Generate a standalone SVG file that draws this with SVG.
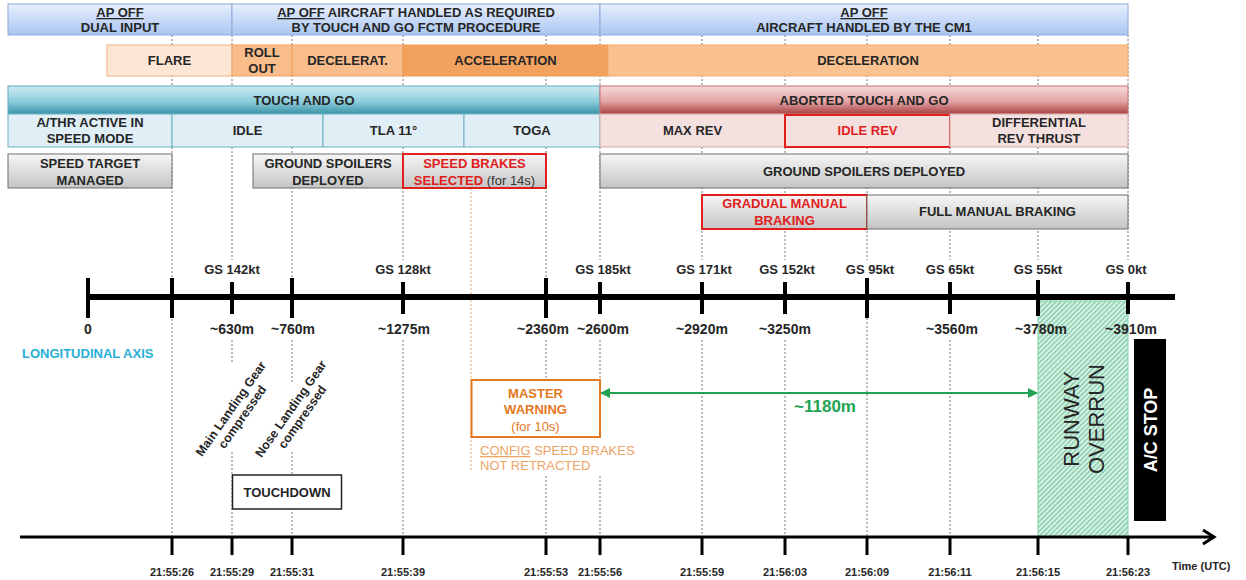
<svg xmlns="http://www.w3.org/2000/svg" width="1246" height="580" viewBox="0 0 1246 580">
<defs>
  <linearGradient id="gBlue" x1="0" y1="0" x2="0" y2="1"><stop offset="0" stop-color="#e8f0fd"/><stop offset="1" stop-color="#a9c5f1"/></linearGradient>
  <linearGradient id="gTeal" x1="0" y1="0" x2="0" y2="1"><stop offset="0" stop-color="#cdebf2"/><stop offset="0.55" stop-color="#8ecddb"/><stop offset="1" stop-color="#3a93a8"/></linearGradient>
  <linearGradient id="gRed" x1="0" y1="0" x2="0" y2="1"><stop offset="0" stop-color="#f8dada"/><stop offset="0.55" stop-color="#e2a4a4"/><stop offset="1" stop-color="#a94242"/></linearGradient>
  <linearGradient id="gGray" x1="0" y1="0" x2="0" y2="1"><stop offset="0" stop-color="#f6f6f6"/><stop offset="1" stop-color="#c4c4c4"/></linearGradient>
  <pattern id="hatch" patternUnits="userSpaceOnUse" width="3.5" height="3.5" patternTransform="rotate(45)"><rect width="3.5" height="3.5" fill="#d8f2e6"/><line x1="1" y1="0" x2="1" y2="3.5" stroke="#63bd90" stroke-width="1"/></pattern>
  <marker id="ga" viewBox="0 0 10 10" refX="9" refY="5" markerWidth="10" markerHeight="10" markerUnits="userSpaceOnUse" orient="auto-start-reverse"><path d="M0,0 L10,5 L0,10 z" fill="#1fa352"/></marker>
</defs>
<style>
  text{font-family:"Liberation Sans",Arial,sans-serif;}
  .t{font-size:13px;font-weight:bold;fill:#262626;text-anchor:middle}
  .red{fill:#e0201c}
  .u{text-decoration:underline}
  .n{font-weight:normal}
  .blue{fill:url(#gBlue);stroke:#8eaadb;stroke-width:1}
  .pk1{fill:#fde6d3;stroke:#f4b183;stroke-width:1}
  .pk2{fill:#f9bd8c;stroke:#f0a060;stroke-width:1}
  .pk3{fill:#f2a25e;stroke:#ee9a52;stroke-width:1}
  .pk4{fill:#f9c290;stroke:#f2ab6c;stroke-width:1}
  .teal{fill:url(#gTeal);stroke:#5aaabd;stroke-width:1}
  .lb{fill:#e0eff5;stroke:#6ab0c4;stroke-width:1}
  .rd{fill:url(#gRed);stroke:#c97070;stroke-width:1}
  .lp{fill:#f5e0e0;stroke:#d8a8a8;stroke-width:1}
  .gr{fill:url(#gGray);stroke:#6e6e6e;stroke-width:1}
  .redb{stroke:#e0201c;stroke-width:2}
  .dash{stroke:#555;stroke-width:0.8;stroke-dasharray:2 2;fill:none}
  .gs{font-size:13px;font-weight:bold;fill:#262626;text-anchor:middle}
  .dm{font-size:14px;font-weight:bold;fill:#262626;text-anchor:middle}
  .tm{font-size:11px;font-weight:bold;fill:#262626;text-anchor:middle}
  .tick{stroke:#000;stroke-width:4}
  .tt{stroke:#000;stroke-width:3}
  .rot{font-size:12.5px;font-weight:bold;fill:#262626;text-anchor:middle}
</style>

<g id="connectors">
  <path class="dash" d="M172,35V537 M232,35V260 M232,340V362 M232,452V537 M292,35V278 M292,340V382 M292,452V537 M403,35V260 M403,340V537 M546,35V278 M546,340V380 M546,476V537 M600,35V260 M600,340V380 M600,476V537 M702,35V260 M702,340V537 M785,35V260 M785,340V537 M867,35V260 M867,318V537 M950,35V260 M950,340V537 M1038,35V260 M1128,35V260"/>
  <path d="M471,188V472" stroke="#e8a060" stroke-width="0.9" stroke-dasharray="2 2" fill="none"/>
</g>

<g id="runway-overrun">
  <rect x="1038" y="301" width="90" height="236" fill="url(#hatch)" stroke="#7fd0a8" stroke-width="1"/>
  <text transform="translate(1083,419) rotate(-90)" font-size="22" fill="#262626" text-anchor="middle"><tspan x="0" y="-4">RUNWAY</tspan><tspan x="0" y="21">OVERRUN</tspan></text>
</g>

<g id="axes">
  <line x1="86" y1="297" x2="1175" y2="297" stroke="#000" stroke-width="6"/>
  <path class="tick" d="M88,278V318 M172,278V318 M232,282V314 M292,278V318 M403,282V314 M546,278V318 M600,282V314 M702,282V314 M785,282V314 M867,278V318 M950,282V314 M1038,280V316 M1128,282V314"/>
  <line x1="20" y1="537" x2="1212" y2="537" stroke="#000" stroke-width="3"/>
  <polyline points="1203,530 1214,537 1203,544" fill="none" stroke="#000" stroke-width="3"/>
  <path class="tt" d="M172,537V555 M232,537V555 M292,537V555 M403,537V555 M546,537V555 M600,537V555 M702,537V555 M785,537V555 M867,537V555 M950,537V555 M1038,537V555 M1128,537V555"/>
  <line x1="601" y1="393" x2="1037" y2="393" stroke="#1fa352" stroke-width="2" marker-start="url(#ga)" marker-end="url(#ga)"/>
</g>

<g id="ap-dual">
  <rect class="blue" x="8" y="4" width="224" height="31"/>
  <text class="t" x="120" y="17"><tspan class="u">AP OFF</tspan></text>
  <text class="t" x="120" y="32">DUAL INPUT</text>
</g>
<g id="ap-fctm">
  <rect class="blue" x="232" y="4" width="368" height="31"/>
  <text class="t" x="416" y="17"><tspan class="u">AP OFF</tspan> AIRCRAFT HANDLED AS REQUIRED</text>
  <text class="t" x="416" y="32">BY TOUCH AND GO FCTM PROCEDURE</text>
</g>
<g id="ap-cm1">
  <rect class="blue" x="600" y="4" width="528" height="31"/>
  <text class="t" x="864" y="17"><tspan class="u">AP OFF</tspan></text>
  <text class="t" x="864" y="32">AIRCRAFT HANDLED BY THE CM1</text>
</g>

<g id="flare"><rect class="pk1" x="107" y="45" width="125" height="31"/><text class="t" x="169.5" y="65">FLARE</text></g>
<g id="rollout"><rect class="pk2" x="232" y="45" width="60" height="31"/><text class="t" x="262" y="57">ROLL</text><text class="t" x="262" y="73">OUT</text></g>
<g id="decelerat"><rect class="pk2" x="292" y="45" width="111" height="31"/><text class="t" x="347.5" y="65">DECELERAT.</text></g>
<g id="acceleration"><rect class="pk3" x="403" y="45" width="205" height="31"/><text class="t" x="505.5" y="65">ACCELERATION</text></g>
<g id="deceleration"><rect class="pk4" x="608" y="45" width="520" height="31"/><text class="t" x="868" y="65">DECELERATION</text></g>

<g id="touch-and-go"><rect class="teal" x="8" y="86" width="592" height="28"/><text class="t" x="304" y="105">TOUCH AND GO</text></g>
<g id="aborted"><rect class="rd" x="600" y="86" width="528" height="28"/><text class="t" x="864" y="105">ABORTED TOUCH AND GO</text></g>

<g id="athr"><rect class="lb" x="8" y="114" width="164" height="33"/><text class="t" x="90" y="127">A/THR ACTIVE IN</text><text class="t" x="90" y="143">SPEED MODE</text></g>
<g id="idle"><rect class="lb" x="172" y="114" width="151" height="33"/><text class="t" x="247.5" y="135">IDLE</text></g>
<g id="tla"><rect class="lb" x="323" y="114" width="141" height="33"/><text class="t" x="393.5" y="135">TLA 11°</text></g>
<g id="toga"><rect class="lb" x="464" y="114" width="136" height="33"/><text class="t" x="532" y="135">TOGA</text></g>
<g id="maxrev"><rect class="lp" x="600" y="114" width="185" height="33"/><text class="t" x="692.5" y="135">MAX REV</text></g>
<g id="idlerev"><rect class="lp redb" x="785" y="115" width="165" height="32"/><text class="t red" x="867.5" y="135">IDLE REV</text></g>
<g id="diffrev"><rect class="lp" x="950" y="114" width="178" height="33"/><text class="t" x="1039" y="127">DIFFERENTIAL</text><text class="t" x="1039" y="143">REV THRUST</text></g>

<g id="speed-target"><rect class="gr" x="8" y="154" width="164" height="34"/><text class="t" x="90" y="168">SPEED TARGET</text><text class="t" x="90" y="185">MANAGED</text></g>
<g id="spoilers-1"><rect class="gr" x="253" y="154" width="150" height="34"/><text class="t" x="328" y="168">GROUND SPOILERS</text><text class="t" x="328" y="185">DEPLOYED</text></g>
<g id="speed-brakes"><rect class="gr redb" x="403" y="154" width="143" height="34"/><text class="t red" x="474.5" y="168">SPEED BRAKES</text><text class="t" x="474.5" y="185"><tspan class="red">SELECTED</tspan><tspan class="n" fill="#333"> (for 14s)</tspan></text></g>
<g id="spoilers-2"><rect class="gr" x="600" y="154" width="528" height="34"/><text class="t" x="864" y="176">GROUND SPOILERS DEPLOYED</text></g>

<g id="gradual"><rect class="gr redb" x="702" y="195" width="165" height="34"/><text class="t red" x="784.5" y="208">GRADUAL  MANUAL</text><text class="t red" x="784.5" y="225">BRAKING</text></g>
<g id="full-braking"><rect class="gr" x="867" y="195" width="261" height="34"/><text class="t" x="997.5" y="216">FULL MANUAL  BRAKING</text></g>

<g id="gs-labels">
  <text class="gs" x="232" y="274">GS 142kt</text>
  <text class="gs" x="403" y="274">GS 128kt</text>
  <text class="gs" x="603" y="274">GS 185kt</text>
  <text class="gs" x="704" y="274">GS 171kt</text>
  <text class="gs" x="787" y="274">GS 152kt</text>
  <text class="gs" x="870" y="274">GS 95kt</text>
  <text class="gs" x="950" y="274">GS 65kt</text>
  <text class="gs" x="1038" y="274">GS 55kt</text>
  <text class="gs" x="1126" y="274">GS 0kt</text>
</g>
<g id="distance-labels">
  <text class="dm" x="88" y="334">0</text>
  <text class="dm" x="232" y="334">~630m</text>
  <text class="dm" x="293" y="334">~760m</text>
  <text class="dm" x="404" y="334">~1275m</text>
  <text class="dm" x="543" y="334">~2360m</text>
  <text class="dm" x="603" y="334">~2600m</text>
  <text class="dm" x="702" y="334">~2920m</text>
  <text class="dm" x="785" y="334">~3250m</text>
  <text class="dm" x="952" y="334">~3560m</text>
  <text class="dm" x="1041" y="334">~3780m</text>
  <text class="dm" x="1131" y="334">~3910m</text>
</g>
<text x="22" y="358" font-size="13" font-weight="bold" fill="#29afd6">LONGITUDINAL  AXIS</text>

<g id="time-labels">
  <text class="tm" x="172" y="576">21:55:26</text>
  <text class="tm" x="232" y="576">21:55:29</text>
  <text class="tm" x="292" y="576">21:55:31</text>
  <text class="tm" x="403" y="576">21:55:39</text>
  <text class="tm" x="546" y="576">21:55:53</text>
  <text class="tm" x="600" y="576">21:55:56</text>
  <text class="tm" x="702" y="576">21:55:59</text>
  <text class="tm" x="785" y="576">21:56:03</text>
  <text class="tm" x="867" y="576">21:56:09</text>
  <text class="tm" x="950" y="576">21:56:11</text>
  <text class="tm" x="1038" y="576">21:56:15</text>
  <text class="tm" x="1128" y="576">21:56:23</text>
  <text x="1172" y="570" font-size="11" font-weight="bold" fill="#262626">Time (UTC)</text>
</g>

<g id="main-gear"><text class="rot" transform="translate(231,409) rotate(-55)"><tspan x="0" y="4">Main Landing Gear</tspan><tspan x="0" y="18">compressed</tspan></text></g>
<g id="nose-gear"><text class="rot" transform="translate(291,409) rotate(-55)"><tspan x="0" y="4">Nose Landing Gear</tspan><tspan x="0" y="18">compressed</tspan></text></g>

<g id="touchdown"><rect x="232.5" y="475" width="109" height="34" fill="#fff" stroke="#222" stroke-width="1.5"/><text class="t" x="287" y="497" fill="#111">TOUCHDOWN</text></g>

<g id="master-warning">
  <rect x="471.5" y="380" width="128.5" height="57" fill="#fff" stroke="#e4781e" stroke-width="2"/>
  <text class="t" x="535.5" y="397.5" style="fill:#e4781e">MASTER</text>
  <text class="t" x="535.5" y="414" style="fill:#e4781e">WARNING</text>
  <text class="t n" x="535.5" y="431" style="fill:#e4781e">(for 10s)</text>
</g>
<g id="config-note">
  <text x="480" y="455" font-size="13" fill="#eba366"><tspan class="u">CONFIG</tspan> SPEED BRAKES</text>
  <text x="480" y="470" font-size="13" fill="#eba366">NOT RETRACTED</text>
</g>

<text x="825" y="412" font-size="17" font-weight="bold" fill="#1fa352" text-anchor="middle">~1180m</text>

<g id="ac-stop">
  <rect x="1134" y="339" width="32" height="182" fill="#000"/>
  <text transform="translate(1150,430) rotate(-90)" font-size="18" font-weight="bold" fill="#fff" text-anchor="middle" dy="6.5">A/C STOP</text>
</g>
</svg>
